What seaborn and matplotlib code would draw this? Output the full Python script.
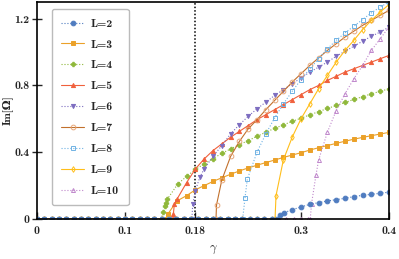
from matplotlib import pyplot as plt
import pandas as pd
import seaborn as sns
import numpy as np

# gamma grid on which the flat (Im = 0) part was sampled
gamma_flat = np.linspace(0, 0.4, 49)

# onset of each branch (last point still on zero)
onsets = [0.273, 0.147, 0.141, 0.154, 0.176, 0.2034, 0.2337, 0.2705, 0.3105]

# rising part of each curve
g_L2 = [0.276, 0.281, 0.29, 0.30, 0.31, 0.32, 0.33, 0.34, 0.35, 0.36, 0.37, 0.38, 0.39, 0.40]
im_L2 = [0.025, 0.038, 0.056, 0.072, 0.088, 0.098, 0.108, 0.116, 0.124, 0.134, 0.142, 0.148, 0.154, 0.161]

g_L3 = [0.149, 0.159, 0.17, 0.18, 0.19, 0.20, 0.21, 0.22, 0.23, 0.24, 0.25, 0.26, 0.27, 0.28,
        0.29, 0.30, 0.31, 0.32, 0.33, 0.34, 0.35, 0.36, 0.37, 0.38, 0.39, 0.40]
im_L3 = [0.032, 0.108, 0.14, 0.175, 0.20, 0.225, 0.247, 0.268, 0.288, 0.306, 0.322, 0.338, 0.353,
         0.369, 0.383, 0.397, 0.413, 0.427, 0.44, 0.453, 0.466, 0.478, 0.489, 0.499, 0.509, 0.519]

g_L4 = [0.1436, 0.1455, 0.1466, 0.148, 0.16, 0.17, 0.18, 0.19, 0.20, 0.21, 0.22, 0.23, 0.24, 0.25,
        0.26, 0.27, 0.28, 0.29, 0.30, 0.31, 0.32, 0.33, 0.34, 0.35, 0.36, 0.37, 0.38, 0.39, 0.40]
im_L4 = [0.04, 0.078, 0.098, 0.118, 0.21, 0.255, 0.297, 0.33, 0.362, 0.393, 0.42, 0.445, 0.47, 0.495,
         0.52, 0.543, 0.564, 0.585, 0.604, 0.624, 0.643, 0.662, 0.68, 0.698, 0.716, 0.733, 0.75, 0.765, 0.78]

g_L5 = [0.155, 0.156, 0.159, 0.17, 0.18, 0.19, 0.20, 0.21, 0.22, 0.23, 0.24, 0.25, 0.26, 0.27,
        0.28, 0.29, 0.30, 0.31, 0.32, 0.33, 0.34, 0.35, 0.36, 0.37, 0.38, 0.39, 0.40]
im_L5 = [0.03, 0.088, 0.118, 0.218, 0.30, 0.36, 0.41, 0.45, 0.49, 0.525, 0.56, 0.595, 0.625, 0.655,
         0.685, 0.715, 0.745, 0.775, 0.80, 0.83, 0.855, 0.88, 0.90, 0.92, 0.94, 0.96, 0.98]

g_L6 = [0.177, 0.18, 0.185, 0.19, 0.20, 0.21, 0.22, 0.23, 0.24, 0.25, 0.26, 0.27, 0.28, 0.29,
        0.30, 0.31, 0.32, 0.33, 0.34, 0.35, 0.36, 0.37, 0.38, 0.39, 0.40]
im_L6 = [0.09, 0.17, 0.25, 0.30, 0.375, 0.44, 0.51, 0.565, 0.615, 0.66, 0.70, 0.74, 0.775, 0.81,
         0.845, 0.88, 0.91, 0.94, 0.975, 1.005, 1.035, 1.065, 1.095, 1.12, 1.15]

g_L7 = [0.204, 0.21, 0.22, 0.23, 0.24, 0.25, 0.26, 0.27, 0.28, 0.29, 0.30, 0.31, 0.32, 0.33,
        0.34, 0.35, 0.36, 0.37, 0.38, 0.39, 0.40]
im_L7 = [0.084, 0.233, 0.375, 0.465, 0.54, 0.595, 0.655, 0.71, 0.765, 0.82, 0.87, 0.92, 0.965, 1.01,
         1.05, 1.09, 1.125, 1.16, 1.19, 1.22, 1.25]

g_L8 = [0.2364, 0.239, 0.25, 0.26, 0.27, 0.28, 0.29, 0.30, 0.31, 0.32, 0.33, 0.34, 0.35, 0.36,
        0.37, 0.38, 0.39, 0.40]
im_L8 = [0.128, 0.239, 0.40, 0.51, 0.605, 0.69, 0.765, 0.835, 0.90, 0.96, 1.02, 1.07, 1.115, 1.155,
         1.195, 1.235, 1.27, 1.30]

g_L9 = [0.2716, 0.28, 0.29, 0.30, 0.31, 0.32, 0.33, 0.34, 0.35, 0.36, 0.37, 0.38, 0.39, 0.40]
im_L9 = [0.14, 0.355, 0.49, 0.60, 0.69, 0.78, 0.86, 0.94, 1.01, 1.07, 1.135, 1.19, 1.24, 1.285]

g_L10 = [0.312, 0.317, 0.32, 0.33, 0.34, 0.35, 0.36, 0.37, 0.38, 0.39, 0.40]
im_L10 = [0.092, 0.263, 0.353, 0.52, 0.65, 0.75, 0.84, 0.92, 1.01, 1.08, 1.15]

labels = ["L=2", "L=3", "L=4", "L=5", "L=6", "L=7", "L=8", "L=9", "L=10"]
gammas = [g_L2, g_L3, g_L4, g_L5, g_L6, g_L7, g_L8, g_L9, g_L10]
ims = [im_L2, im_L3, im_L4, im_L5, im_L6, im_L7, im_L8, im_L9, im_L10]

x_ticks = [0, 0.1, 0.18, 0.3, 0.4]
x_ticklabels = ["0", "0.1", "0.18", "0.3", "0.4"]
y_ticks = [0, 0.4, 0.8, 1.2]
y_ticklabels = ["0", "0.4", "0.8", "1.2"]

# (line color, marker, linestyle, filled, marker edge color)
styles = [
    ("#4f7cc0", "o", ":", True, "#4f7cc0"),
    ("#eba129", "s", "-", True, "#eba129"),
    ("#8fb83a", "P", ":", True, "#8fb83a"),
    ("#f0603c", "^", "-", True, "#f0603c"),
    ("#7c6cc0", "v", ":", True, "#7c6cc0"),
    ("#c2702c", "o", "-", False, "#e6a77a"),
    ("#6fb2e4", "s", ":", False, "#6fb2e4"),
    ("#ffbe1a", "d", "-", False, "#ffbe1a"),
    ("#c088cc", "^", ":", False, "#c088cc"),
]
sizes = [3.4, 2.6, 3.2, 3.0, 3.0, 3.4, 2.7, 2.9, 2.9]


def build_frame():
    frames = []
    for lab, on, g, im in zip(labels, onsets, gammas, ims):
        flat = gamma_flat[gamma_flat < on]
        x = np.concatenate([flat, [on], g])
        y = np.concatenate([np.zeros(len(flat) + 1), im])
        frames.append(pd.DataFrame({"gamma": x, "im": y, "L": lab}))
    return pd.concat(frames, ignore_index=True)


df = build_frame()

sns.set_style("ticks")
plt.rcParams["font.family"] = "cmb10"
plt.rcParams["mathtext.fontset"] = "cm"
plt.rcParams["axes.unicode_minus"] = False

fig = plt.figure(figsize=(3.99, 2.59), dpi=100)
ax = fig.add_axes([37 / 399, 1 - 219 / 259, 352 / 399, 217 / 259])

for i, lab in enumerate(labels):
    col, mk, ls, filled, ec = styles[i]
    sub = df[df["L"] == lab]
    sns.lineplot(data=sub, x="gamma", y="im", ax=ax, estimator=None, sort=False,
                 color=col, marker=mk, linestyle=ls, linewidth=0.8,
                 markersize=sizes[i], markeredgewidth=0.7,
                 markerfacecolor=col if filled else "none",
                 markeredgecolor=ec, label=lab,
                 zorder=10 if i == 0 else 3 + i * 0.1)

ax.axvline(0.18, color="k", linestyle=(0, (1, 1.3)), linewidth=1.1, zorder=2)

ax.set_xlim(0, 0.4)
ax.set_ylim(0, 1.3)
ax.set_xticks(x_ticks)
ax.set_xticklabels(x_ticklabels)
ax.set_yticks(y_ticks)
ax.set_yticklabels(y_ticklabels)
ax.tick_params(axis="x", direction="in", length=5, width=1, labelsize=8.5, pad=5)
ax.tick_params(axis="y", direction="inout", length=7, width=1, labelsize=8.5, pad=2)
for sp in ax.spines.values():
    sp.set_linewidth(1.2)
    sp.set_color("k")
    sp.set_zorder(12)

ax.set_xlabel(r"$\gamma$", fontsize=9, labelpad=6)
ax.set_ylabel("Im[Ω]", fontsize=8, family=["cmb10", "DejaVu Serif"], fontweight="bold")
ax.yaxis.set_label_coords(-0.07, 0.5)

ax.legend(loc="upper left", bbox_to_anchor=(15 / 352, 1 - 7 / 217), borderaxespad=0,
          fontsize=8.5, labelspacing=0.9, handlelength=1.9, handletextpad=0.6,
          borderpad=0.8, frameon=True, fancybox=True, edgecolor="#bbbbbb", framealpha=1)

fig.savefig("out.png", dpi=100)
